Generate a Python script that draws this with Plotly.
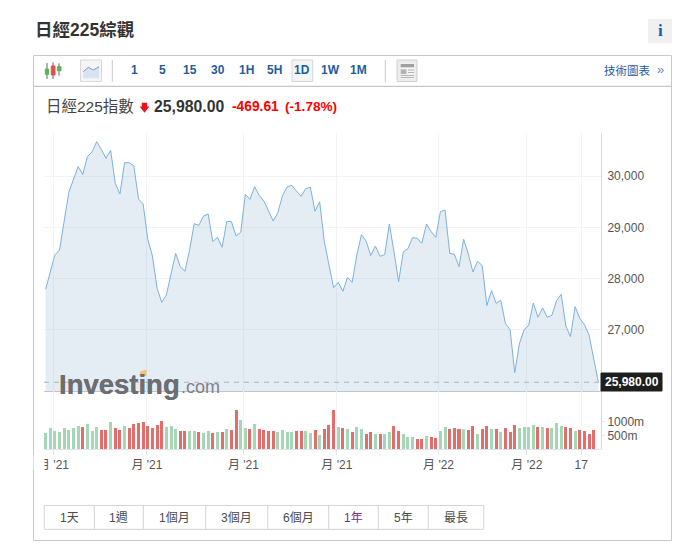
import plotly.graph_objects as go

W, H = 688, 553

# ---------- data ----------
price = [27792,28104,28461,28558,29143,29682,29935,30182,30032,30377,
         30468,30669,30520,30344,30500,29857,29649,30260,30260,30195,
         29552,29455,28766,28441,27812,27539,27682,28071,28493,28234,
         28143,28558,29071,29039,29221,29260,28721,28805,28610,29117,
         29110,28831,28903,29643,29545,
         29792,29617,29513,29305,29123,29286,29617,29786,29818,29708,
         29604,29753,29779,29312,29500,28721,28299,27825,27928,27753,
         28026,27928,28461,28857,28734,28448,28636,28435,28467,29065,
         28526,27941,28519,28584,28799,28786,28688,29065,28916,28805,
         29305,29338,28493,28474,28234,
         28766,28480,28130,28338,28253,27474,27766,27519,27578,27123,
         27006,26169,26727,27000,27091,27526,27247,27428,27247,27286,
         27571,27695,27078,26870,27454,27227,27104,26902,26415,25980]

volume_m = [573,756,647,610,756,683,756,830,793,903,
            647,793,683,683,976,756,683,830,756,903,
            939,976,830,756,866,1013,793,830,720,647,
            647,647,647,610,573,647,573,610,610,720,
            683,1415,1049,756,720,903,720,683,647,647,
            610,683,610,610,647,647,647,573,683,500,
            720,866,1415,
            793,756,720,610,793,720,537,610,537,537,
            537,610,830,647,537,427,427,354,354,464,
            427,390,647,793,720,756,720,720,683,830,
            537,720,830,720,720,610,756,610,866,756,
            793,793,866,793,793,756,756,939,830,793,
            756,647,683,647,537,683]

volume_dir = list("GGGGGGGGRGGGRRGRRGRRRRRRRRGGGRRGGRGGRGRGRRGGRGRRRRGGGGRRGGRGRRR"
                  "GRGRGGRRGRGGRRGGGRRGRRGGRRRGRR"
                  "GRRGRGRRRGGGGRGRGGGRRGRRRR")

x_tick_pos = [1.7, 21.8, 42.6, 62.7, 84.6, 103.6, 115.3]
x_tick_labels = ["月 '21", "月 '21", "月 '21", "月 '21", "月 '22", "月 '22", "17"]
price_ticks = [27000, 28000, 29000, 30000]
price_tick_labels = ["27,000", "28,000", "29,000", "30,000"]
vol_ticks = [500, 1000]
vol_tick_labels = ["500m", "1000m"]
interval_labels = ["1", "5", "15", "30", "1H", "5H", "1D", "1W", "1M"]
range_labels = ["1天", "1週", "1個月", "3個月", "6個月", "1年", "5年", "最長"]

# ---------- page furniture helpers ----------
FONT = "Liberation Sans, Arial, Noto Sans CJK TC, sans-serif"
def X(px): return px / W
def Y(py): return 1 - py / H

shapes, annos = [], []
def rect(x0, y0, x1, y1, fill="rgba(0,0,0,0)", line="rgba(0,0,0,0)", lw=1, layer="below"):
    shapes.append(dict(type="rect", xref="paper", yref="paper", x0=X(x0), x1=X(x1), y0=Y(y0), y1=Y(y1),
                       fillcolor=fill, line=dict(color=line, width=lw), layer=layer))
def seg(x0, y0, x1, y1, color, lw=1, layer="below"):
    shapes.append(dict(type="line", xref="paper", yref="paper", x0=X(x0), x1=X(x1), y0=Y(y0), y1=Y(y1),
                       line=dict(color=color, width=lw), layer=layer))
def poly(pts, fill, line="rgba(0,0,0,0)", lw=1, layer="above", close=True):
    p = "M " + " L ".join(f"{X(a):.5f},{Y(b):.5f}" for a, b in pts) + (" Z" if close else "")
    shapes.append(dict(type="path", path=p, xref="paper", yref="paper", fillcolor=fill,
                       line=dict(color=line, width=lw), layer=layer))
def text(px, py, s, size=12, color="#444", bold=False, anchor="left", family=FONT, **kw):
    annos.append(dict(x=X(px), y=Y(py), xref="paper", yref="paper", text=f"<b>{s}</b>" if bold else s,
                      showarrow=False, xanchor=anchor, yanchor="middle", borderpad=0, borderwidth=0,
                      font=dict(size=size, color=color, family=family), **kw))

# panel and toolbar
rect(33.5, 55.5, 671.5, 540.5, line="#c8c8c8")
seg(34, 86.3, 671, 86.3, "#b8b8b8")
text(35, 29.5, "日經225綜觀", 17.5, "#333333", True)
rect(648, 19, 672, 43, fill="#f0f0f0")
text(660, 31, "i", 17, "#1a5ca8", True, "center", family="Liberation Serif, serif")

# candle icon
for xc, wy0, wy1, bx0, bx1, by0, by1, col in [
    (47, 63, 79, 45.3, 48.7, 69, 74.3, "#59b35c"),
    (53, 62.3, 79, 51.3, 55, 66, 75, "#e0504f"),
    (59, 63.3, 75.7, 57.3, 61, 66.7, 70.7, "#59b35c")]:
    seg(xc, wy0, xc, wy1, "#666666")
    rect(bx0, by0, bx1, by1, fill=col, line=col)
# line icon button
rect(80.5, 60, 101.5, 81.5, fill="#f5f5f5", line="#d8d8d8")
poly([(83.3, 71.7), (88.3, 67.3), (93.3, 70), (99, 66.7), (99, 78.3), (83.3, 78.3)], "#d8e3f2")
poly([(83.3, 71.7), (88.3, 67.3), (93.3, 70), (99, 66.7)], "rgba(0,0,0,0)", "#7d9cc9", 1, close=False)
seg(112.3, 60, 112.3, 82, "#c8c8c8")
# 1D highlight and interval labels
rect(292, 60, 312.7, 81.5, fill="#f2f4f6", line="#d5d5d5")
interval_x = [134.3, 162.3, 190, 218, 246, 274, 302, 330, 358]
for xp, lab in zip(interval_x, interval_labels):
    text(xp, 70, lab, 12, "#1f5c9e", True, "center")
seg(385.3, 60, 385.3, 82, "#c8c8c8")
# table icon
rect(397, 60, 417, 81.5, fill="#ececec", line="#d0d0d0")
rect(400.7, 63.5, 414, 79, fill="#f4f4f4")
rect(400.7, 64, 414, 67.3, fill="#a0a0a0")
rect(400.7, 69.3, 406.5, 74, fill="#b4b4b4")
for yy in (70, 72.5, 75.5, 77.5):
    seg(408 if yy < 75 else 400.7, yy, 414, yy, "#b4b4b4")
text(604, 70, "技術圖表", 11.5, "#1a5c9e")
text(660, 69.5, "»", 13, "#5f8fc5", anchor="center")

# headline quote
text(46, 106.5, "日經225指數", 15.5, "#444444")
poly([(141.8, 102.7), (147.2, 102.7), (147.2, 106.5), (149.4, 106.5), (144.5, 112.7), (139.6, 106.5), (141.8, 106.5)], "#e8141c")
text(154, 107, "25,980.00", 15.8, "#333333", True)
text(231.7, 107, "-469.61", 13.8, "#ff0000", True)
text(285, 107, "(-1.78%)", 13.6, "#ff0000", True)

# range selector
edges = [44.3, 94.3, 143.3, 205.7, 267.7, 328.7, 378.3, 428.3, 483.7]
rect(edges[0], 505.5, edges[-1], 529.3, fill="#ffffff", line="#d4d4d4")
for e in edges[1:-1]:
    seg(e, 505.5, e, 529.3, "#d4d4d4")
for i, lab in enumerate(range_labels):
    text((edges[i] + edges[i + 1]) / 2, 517.5, lab, 12, "#7b2d8b" if lab == "1年" else "#4a4a4a", anchor="center")

# last-price tag
rect(601, 373, 662, 391, fill="#1e1e1e", line="#1e1e1e", layer="above")
text(631.5, 382, "25,980.00", 12, "#ffffff", True, "center")

# watermark
text(59, 384, "Investing", 27.5, "#6d6e71", True)
text(59.4, 384, "Investing", 27.5, "#6d6e71", True)
text(180.5, 386.5, ".com", 18, "#808285")
poly([(140, 371.5), (146.5, 369.5), (146.5, 376), (139.5, 376)], "#f2c671")

# white patch that clips the first date label at the plot's left edge
rect(34, 455, 44, 470, fill="#ffffff", line="#ffffff", layer="above")

# ---------- chart ----------
xs = list(range(len(price)))
bar_colors = ["#a5d6b5" if d == "G" else "#e26d6d" for d in volume_dir]

fig = go.Figure()
fig.add_trace(go.Scatter(x=xs, y=price, mode="lines", line=dict(color="#7cb2da", width=1),
                         fill="tozeroy", fillcolor="rgba(120,165,195,0.2)", xaxis="x", yaxis="y",
                         hoverinfo="skip", showlegend=False))
fig.add_trace(go.Bar(x=xs[:len(volume_m)], y=volume_m, marker=dict(color=bar_colors, line=dict(width=0)),
                     width=0.65, xaxis="x2", yaxis="y2", hoverinfo="skip", showlegend=False))

shapes.append(dict(type="line", xref="paper", yref="y", x0=X(44), x1=X(601), y0=price[-1], y1=price[-1],
                   line=dict(color="#b0b4b8", width=1, dash="5px,5px"), layer="above"))

xrange_ = [-0.344, 119.57]
GRID = "#f1f3f6"
fig.update_layout(
    template="none",
    width=W, height=H, margin=dict(l=0, r=0, t=0, b=0), autosize=False,
    paper_bgcolor="#ffffff", plot_bgcolor="#ffffff", showlegend=False, bargap=0,
    font=dict(family=FONT, size=12, color="#555555"),
    shapes=shapes, annotations=annos,
    xaxis=dict(automargin=False, domain=[X(44), X(601)], range=xrange_, anchor="y", tickvals=x_tick_pos, ticktext=[""] * 7,
               showgrid=True, gridcolor=GRID, gridwidth=1, zeroline=False, showline=True,
               linecolor="#c4c4c4", linewidth=1, ticks=""),
    yaxis=dict(automargin=False, domain=[Y(391), Y(133)], range=[25810, 30838], side="right", anchor="x",
               tickvals=price_ticks, ticktext=price_tick_labels, showgrid=True, gridcolor=GRID,
               zeroline=False, showline=True, linecolor="#d8d8d8", ticks="outside", ticklen=3,
               tickcolor="#ffffff", tickfont=dict(size=12, color="#555555")),
    xaxis2=dict(automargin=False, domain=[X(44), X(601)], range=xrange_, anchor="y2", tickvals=x_tick_pos, ticktext=x_tick_labels,
                showgrid=True, gridcolor=GRID, gridwidth=1, zeroline=False, showline=True,
                linecolor="#dfe5ea", linewidth=1, ticks="outside", ticklen=5, tickcolor="#dfe5ea",
                tickangle=0, tickfont=dict(size=12, color="#555555")),
    yaxis2=dict(automargin=False, domain=[Y(449), Y(391)], range=[0, 2120], side="right", anchor="x2",
                tickvals=vol_ticks, ticktext=vol_tick_labels, showgrid=False, zeroline=False,
                showline=True, linecolor="#d8d8d8", ticks="outside", ticklen=3, tickcolor="#dfe5ea",
                tickfont=dict(size=12, color="#555555")),
)

fig.write_html("out.html", config=dict(displayModeBar=False),
               post_script="document.body.style.margin='0';document.body.style.overflow='hidden';")
